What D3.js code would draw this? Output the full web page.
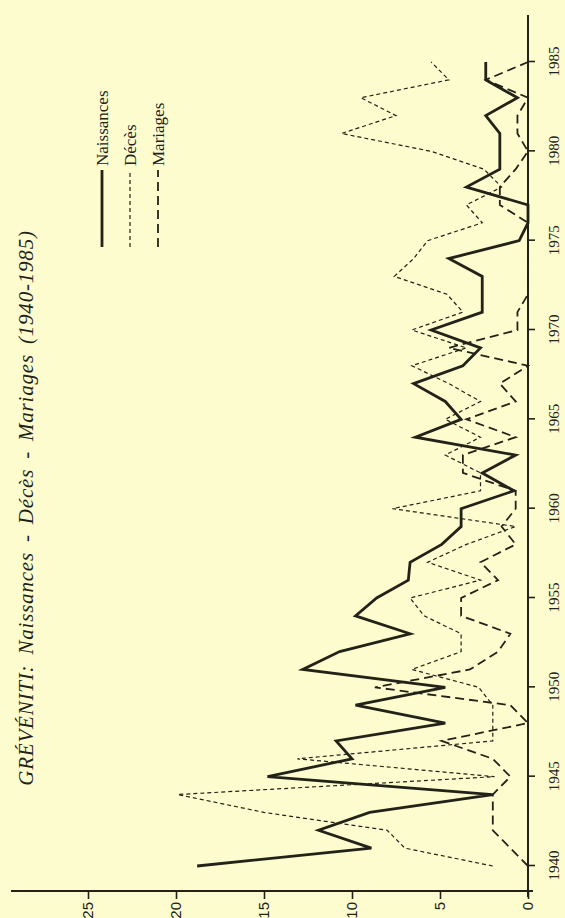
<!DOCTYPE html>
<html lang="fr">
<head>
<meta charset="UTF-8">
<title>Gréveniti</title>
<script src="https://d3js.org/d3.v7.min.js"></script>
<style>
  body { margin: 0; background: #fdfccf; }
  svg { display: block; }
</style>
</head>
<body>
<svg id="chart" width="565" height="918"></svg>
<script>
var years = [1940,1941,1942,1943,1944,1945,1946,1947,1948,1949,
             1950,1951,1952,1953,1954,1955,1956,1957,1958,1959,
             1960,1961,1962,1963,1964,1965,1966,1967,1968,1969,
             1970,1971,1972,1973,1974,1975,1976,1977,1978,1979,
             1980,1981,1982,1983,1984,1985];
var naissances = [18.8,8.9,11.9,9.0,2.0,14.8,10.0,10.9,4.7,9.8,
                  4.7,12.8,10.7,6.7,9.8,8.6,6.8,6.7,4.9,3.8,
                  3.8,0.8,2.6,0.7,6.4,3.8,4.7,6.5,3.7,2.7,
                  5.5,2.6,2.6,2.6,4.5,0.5,0,0,3.5,1.6,
                  1.6,1.6,2.4,0.6,2.4,2.4];
var deces = [2.0,7.0,8.0,15.0,19.9,1.9,13.1,2.0,2.0,2.0,
             2.8,6.6,3.8,3.8,5.9,6.7,2.7,5.7,3.5,0.7,
             7.7,2.7,2.7,4.7,2.7,4.7,2.7,4.5,6.6,3.5,
             6.6,3.7,4.6,7.6,6.5,5.7,2.6,3.5,1.5,2.5,
             5.5,10.6,7.5,9.5,4.5,5.5];
var mariages = [0,1.0,2.0,2.0,2.0,1.0,2.0,4.9,0,1.0,
                8.7,3.3,1.7,1.0,3.8,3.8,1.7,2.7,0.7,1.5,
                0.7,0.7,3.7,3.7,0.7,3.5,0.7,1.6,0,4.5,
                0.6,0.6,0,0,0,0,0,1.6,1.6,0.7,
                0,0.6,0.6,0,2.4,0];
var yearTicks = [1940,1945,1950,1955,1960,1965,1970,1975,1980,1985];
var valueTicks = [0,5,10,15,20,25];
var legendNames = ["Naissances","Décès","Mariages"];

var ink = "#222218";
var svg = d3.select("#chart");
// the chart is drawn upright and turned a quarter left
var g = svg.append("g").attr("transform", "translate(0,918) rotate(-90)");

var x = d3.scaleLinear().domain([1940, 1985]).range([52, 856]);
var y = d3.scaleLinear().domain([0, 25]).range([528, 88]);

// year axis (right side of the page)
var xa = g.append("g").attr("transform", "translate(0,528)")
    .call(d3.axisBottom(x).tickValues(yearTicks).tickFormat(d3.format("d")).tickSize(7));
xa.select(".domain").remove();
xa.selectAll("line").attr("stroke", ink).attr("stroke-width", 1.6);
xa.selectAll("text").attr("y", 26).attr("dy", "0.35em")
    .attr("font-family", "Liberation Serif").attr("font-size", 15).attr("fill", ink);
g.append("line").attr("x1", 21).attr("x2", 903).attr("y1", 528).attr("y2", 528)
    .attr("stroke", ink).attr("stroke-width", 2);

// value axis (bottom of the page)
var ya = g.append("g").attr("transform", "translate(27,0)")
    .call(d3.axisLeft(y).tickValues(valueTicks).tickSize(8).tickPadding(3));
ya.select(".domain").remove();
ya.selectAll("line").attr("stroke", ink).attr("stroke-width", 1.6);
ya.selectAll("text").attr("font-family", "Liberation Sans").attr("font-size", 15).attr("fill", ink);
g.append("line").attr("x1", 27).attr("x2", 27).attr("y1", 11).attr("y2", 533)
    .attr("stroke", ink).attr("stroke-width", 2);

var line = d3.line().x(function(d, i){ return x(years[i]); }).y(function(d){ return y(d); });

g.append("path").datum(mariages).attr("d", line).attr("fill", "none")
    .attr("stroke", ink).attr("stroke-width", 1.8).attr("stroke-dasharray", "9,5");
g.append("path").datum(deces).attr("d", line).attr("fill", "none")
    .attr("stroke", ink).attr("stroke-width", 1.2).attr("stroke-dasharray", "4,3");
g.append("path").datum(naissances).attr("d", line).attr("fill", "none")
    .attr("stroke", ink).attr("stroke-width", 2.8).attr("stroke-linejoin", "miter");

// legend
var styles = [{w: 2.8, dash: null}, {w: 1.2, dash: "4,3"}, {w: 1.8, dash: "9,5"}];
legendNames.forEach(function(name, i){
    var v = 102 + i * 28;
    g.append("line").attr("x1", 671).attr("x2", 748).attr("y1", v).attr("y2", v)
        .attr("stroke", ink).attr("stroke-width", styles[i].w)
        .attr("stroke-dasharray", styles[i].dash);
    g.append("text").attr("x", 752).attr("y", v).attr("dy", "0.35em")
        .attr("font-family", "Liberation Serif").attr("font-size", 17).attr("fill", ink)
        .text(name);
});

// title
g.append("text").attr("x", 410).attr("y", 26).attr("dy", "0.35em")
    .attr("text-anchor", "middle").attr("font-family", "Liberation Serif")
    .attr("font-style", "italic").attr("font-size", 21).attr("letter-spacing", 0.8)
    .attr("word-spacing", 4).attr("fill", ink)
    .text("GRÉVÉNITI: Naissances - Décès - Mariages (1940-1985)");
</script>
</body>
</html>
